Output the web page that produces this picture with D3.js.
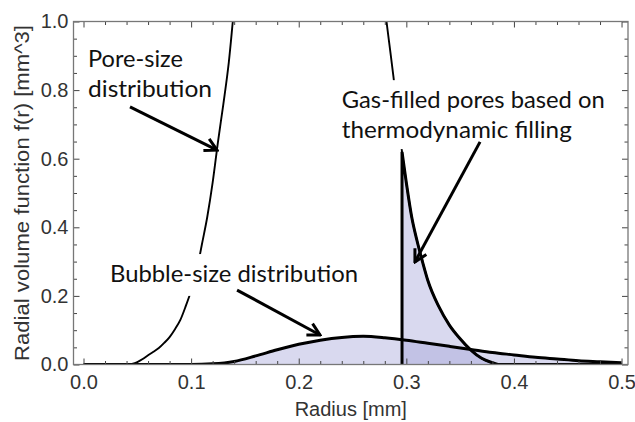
<!DOCTYPE html>
<html><head><meta charset="utf-8">
<script src="https://cdn.jsdelivr.net/npm/d3@7/dist/d3.min.js"></script>
<style>
html,body{margin:0;padding:0;background:#fff;}
svg{display:block;}
</style></head>
<body>
<svg id="c" width="635" height="422"></svg>
<script>
// ---------------- data ----------------
const poreR = [0.040,0.045,0.050,0.055,0.060,0.065,0.070,0.075,0.080,0.085,0.090,0.095,0.100,0.105,0.110,0.115,0.120,0.125,0.130,0.135,0.140,0.150,0.200,0.250,0.270,0.280,0.284,0.288,0.292,0.296,0.300,0.305,0.310,0.315,0.320,0.330,0.340,0.350,0.360,0.370,0.380,0.385,0.400,0.500];
const poreF = [0.000,0.002,0.007,0.016,0.027,0.037,0.048,0.063,0.080,0.103,0.130,0.170,0.215,0.270,0.350,0.430,0.530,0.650,0.760,0.880,1.040,1.300,2.500,2.000,1.350,1.040,0.940,0.840,0.730,0.620,0.530,0.430,0.360,0.300,0.245,0.170,0.115,0.075,0.042,0.018,0.005,0.000,0.000,0.000];
const gasCutoff = 0.296;
const bubbleR = [0.00,0.10,0.12,0.14,0.16,0.18,0.20,0.22,0.24,0.26,0.28,0.30,0.32,0.34,0.36,0.38,0.40,0.42,0.44,0.46,0.48,0.50];
const bubbleF = [0.000,0.000,0.002,0.009,0.025,0.043,0.059,0.071,0.079,0.082,0.078,0.071,0.062,0.053,0.044,0.035,0.028,0.021,0.016,0.011,0.008,0.005];
const xMajor = [0,0.1,0.2,0.3,0.4,0.5];
const yMajor = [0,0.2,0.4,0.6,0.8,1.0];
const xMinor = d3.range(0,0.5001,0.02).filter(v=>Math.abs(v*10-Math.round(v*10))>1e-6);
const yMinor = d3.range(0,1.0001,0.05).filter(v=>Math.abs(v*5-Math.round(v*5))>1e-6);
const xTitle = "Radius [mm]";
const yTitle = "Radial volume function f(r) [mm^3]";
// annotations: text lines [text, x, baseline y, width px]; box [xLeft, yTop, xRight, yBottom] in data units
const labels = [
  {lines:[["Pore-size",0.0042,0.867,95],["distribution",0.0042,0.780,124]], box:null},
  {lines:[["Gas-filled pores based on",0.240,0.748,263],["thermodynamic filling",0.240,0.660,230]], box:[0.2347,0.829,0.491,0.628]},
  {lines:[["Bubble-size distribution",0.0246,0.2405,248]], box:[0.019,0.322,0.2607,0.200]}
];
const arrows = [
  [0.0432,0.751,0.1241,0.625],
  [0.3685,0.649,0.3080,0.299],
  [0.1427,0.217,0.2198,0.086]
];

// ---------------- scales ----------------
const svg = d3.select("#c");
const x = d3.scaleLinear().domain([-0.0093,0.506]).range([73.5,628]);
const y = d3.scaleLinear().domain([0,1]).range([364.5,21.5]);

const defs = svg.append("defs");
defs.append("clipPath").attr("id","clip").append("rect")
  .attr("x",x.range()[0]).attr("y",y(1)).attr("width",x.range()[1]-x.range()[0]).attr("height",y(0)-y(1));
defs.append("marker").attr("id","arr").attr("markerUnits","userSpaceOnUse")
  .attr("viewBox","-14 -8 16 16").attr("refX",0).attr("refY",0)
  .attr("markerWidth",16).attr("markerHeight",16).attr("orient","auto")
  .append("path").attr("d","M-12,-6.5L0,0L-12,6.5").attr("fill","none")
  .attr("stroke","#000").attr("stroke-width",3).attr("stroke-linejoin","miter");

const pore = poreR.map((r,i)=>[r,poreF[i]]);
const gas = pore.filter(d=>d[0]>=gasCutoff-1e-9 && d[0]<=0.386);
const bubble = bubbleR.map((r,i)=>[r,bubbleF[i]]);

const line = d3.line().x(d=>x(d[0])).y(d=>y(d[1])).curve(d3.curveMonotoneX);
const area = d3.area().x(d=>x(d[0])).y0(y(0)).y1(d=>y(d[1])).curve(d3.curveMonotoneX);

const fillCol = "rgb(160,160,215)";
const g = svg.append("g").attr("clip-path","url(#clip)");
g.append("path").attr("d",area(bubble)).attr("fill",fillCol).attr("fill-opacity",0.4);
g.append("path").attr("d",area(gas)).attr("fill",fillCol).attr("fill-opacity",0.4);

// ---------------- axes / frame ----------------
function styleAxis(sel){
  sel.select(".domain").remove();
  sel.selectAll(".tick line").attr("stroke","#444").attr("stroke-width",1);
  sel.selectAll(".tick text").attr("fill","#333").attr("font-family","'Liberation Sans', Arial, sans-serif").attr("font-size",20);
}
const fmt = d3.format(".1f");
svg.append("g").attr("transform",`translate(0,${y(0)})`)
  .call(d3.axisBottom(x).tickValues(xMajor).tickSize(-6).tickPadding(10).tickFormat(fmt)).call(styleAxis);
svg.append("g").attr("transform",`translate(0,${y(0)})`)
  .call(d3.axisBottom(x).tickValues(xMinor).tickSize(-3.5).tickFormat("")).call(styleAxis);
svg.append("g").attr("transform",`translate(0,${y(1)})`)
  .call(d3.axisTop(x).tickValues(xMajor).tickSize(-6).tickFormat("")).call(styleAxis);
svg.append("g").attr("transform",`translate(0,${y(1)})`)
  .call(d3.axisTop(x).tickValues(xMinor).tickSize(-3.5).tickFormat("")).call(styleAxis);
svg.append("g").attr("transform",`translate(${x.range()[0]},0)`)
  .call(d3.axisLeft(y).tickValues(yMajor).tickSize(-6).tickPadding(5).tickFormat(fmt)).call(styleAxis);
svg.append("g").attr("transform",`translate(${x.range()[0]},0)`)
  .call(d3.axisLeft(y).tickValues(yMinor).tickSize(-3.5).tickFormat("")).call(styleAxis);
svg.append("g").attr("transform",`translate(${x.range()[1]},0)`)
  .call(d3.axisRight(y).tickValues(yMajor).tickSize(-6).tickFormat("")).call(styleAxis);
svg.append("g").attr("transform",`translate(${x.range()[1]},0)`)
  .call(d3.axisRight(y).tickValues(yMinor).tickSize(-3.5).tickFormat("")).call(styleAxis);
svg.append("rect").attr("x",x.range()[0]).attr("y",y(1)).attr("width",x.range()[1]-x.range()[0]).attr("height",y(0)-y(1))
  .attr("fill","none").attr("stroke","#777").attr("stroke-width",1.3);

// ---------------- curves ----------------
g.append("path").attr("d",line(pore)).attr("fill","none").attr("stroke","#000").attr("stroke-width",1.9);
g.append("path").attr("d",line(bubble)).attr("fill","none").attr("stroke","#000").attr("stroke-width",3);
const gasPath = `M${x(gasCutoff)},${y(0)}L` + line(gas).slice(1) + `L${x(0.5)},${y(0)}`;
g.append("path").attr("d",gasPath).attr("fill","none").attr("stroke","#000").attr("stroke-width",3).attr("stroke-linejoin","miter");

// ---------------- annotations ----------------
labels.forEach(L=>{
  if(L.box){
    const [x1,y1,x2,y2]=L.box;
    svg.append("rect").attr("x",x(x1)).attr("y",y(y1)).attr("width",x(x2)-x(x1)).attr("height",y(y2)-y(y1)).attr("fill","#fff");
  }
});
arrows.forEach(a=>{
  svg.append("line").attr("x1",x(a[0])).attr("y1",y(a[1])).attr("x2",x(a[2])).attr("y2",y(a[3]))
    .attr("stroke","#000").attr("stroke-width",3).attr("marker-end","url(#arr)");
});
labels.forEach(L=>{
  L.lines.forEach(([t,lx,ly,w])=>{
    svg.append("text").attr("x",x(lx)).attr("y",y(ly)).text(t)
      .attr("font-family","Lato, 'Open Sans', sans-serif").attr("font-size",23).attr("fill","#111")
      .attr("textLength",w).attr("lengthAdjust","spacingAndGlyphs");
  });
});

// ---------------- titles ----------------
svg.append("text").attr("x",(x.range()[0]+x.range()[1])/2).attr("y",416).attr("text-anchor","middle")
  .attr("font-family","'Liberation Sans', Arial, sans-serif").attr("font-size",20).attr("fill","#333").text(xTitle);
svg.append("text").attr("transform",`translate(29,${(y(0)+y(1))/2}) rotate(-90)`).attr("text-anchor","middle")
  .attr("font-family","'Liberation Sans', Arial, sans-serif").attr("font-size",20).attr("fill","#333")
  .attr("textLength",336).attr("lengthAdjust","spacingAndGlyphs").text(yTitle);
</script>
</body></html>
